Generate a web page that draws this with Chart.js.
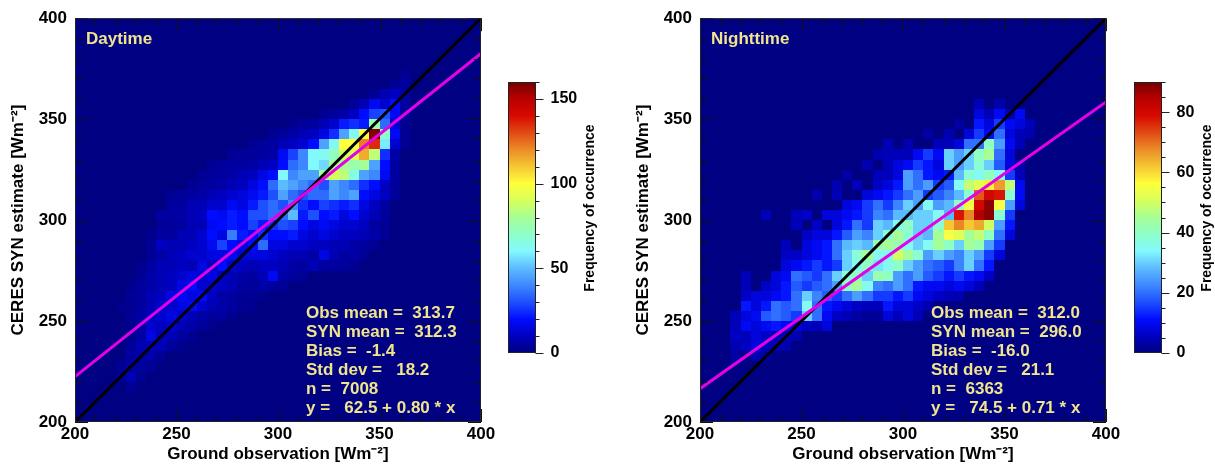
<!DOCTYPE html>
<html><head><meta charset="utf-8">
<script src="https://cdn.jsdelivr.net/npm/chart.js@4.4.1/dist/chart.umd.min.js"></script>
<style>
html,body{margin:0;padding:0;background:#fff}
body{width:1215px;height:467px;overflow:hidden;position:relative}
canvas{position:absolute;top:0}
</style></head><body>
<canvas id="day" width="500" height="467" style="left:0px"></canvas>
<canvas id="dayBar" width="125" height="467" style="left:500px"></canvas>
<canvas id="night" width="500" height="467" style="left:625px"></canvas>
<canvas id="nightBar" width="90" height="467" style="left:1125px"></canvas>
<script>
// ---------------- data ----------------
const binWidth = 5;
const axisTicks = [200, 250, 300, 350, 400];
const dayBarTicks = [0, 50, 100, 150];
const nightBarTicks = [0, 20, 40, 60, 80];
const barMax = [160, 90];
const panelLabels = ['Daytime', 'Nighttime'];
const fitIntercept = [62.5, 74.5];
const fitSlope = [0.80, 0.71];
const dayStats = ['Obs mean =  313.7', 'SYN mean =  312.3', 'Bias =  -1.4', 'Std dev =   18.2', 'n =  7008', 'y =   62.5 + 0.80 * x'];
const nightStats = ['Obs mean =  312.0', 'SYN mean =  296.0', 'Bias =  -16.0', 'Std dev =   21.1', 'n =  6363', 'y =   74.5 + 0.71 * x'];

// Daytime 2-D histogram: row = SYN bin lower edge, start = first obs bin lower edge, counts per 5 Wm-2 obs bin
const daySyn = [215,220,225,230,235,240,245,250,255,260,265,270,275,280,285,290,295,300,305,310,315,320,325,330,335,340,345,350,355,360,365,370];
const dayStart = [225,220,220,225,225,225,225,225,220,225,225,230,230,235,235,235,240,240,245,245,255,260,265,275,285,295,305,320,335,345,355,360];
const dayCounts = [
 [3],
 [3,8,3],
 [3,6,4,3],
 [5,6,6,3],
 [4,8,8,8,4,2],
 [2,6,15,10,8,5,3],
 [2,5,12,10,12,8,6,4,2],
 [3,6,10,12,15,12,8,6,4,5,2],
 [2,3,5,8,12,12,15,18,12,8,6,5,3,2],
 [3,5,8,10,15,18,15,18,10,6,5,3,3,2],
 [2,5,6,8,10,15,20,12,12,10,8,5,4,6,5,3],
 [3,6,8,10,12,15,12,15,10,8,6,5,8,18,6,5,3],
 [2,5,8,8,10,8,15,10,20,12,10,8,10,10,8,6,5,8,5,5,4,3],
 [3,6,8,10,12,12,15,15,18,14,15,15,12,10,8,8,6,15,8,5,6,3],
 [3,10,8,8,10,12,18,28,20,15,20,35,15,15,12,12,10,10,8,8,6,5,3],
 [2,5,5,8,8,12,20,15,38,22,20,25,20,20,22,15,12,15,12,10,10,8,6,3],
 [3,4,5,8,8,18,20,22,20,28,22,25,30,28,20,15,18,15,12,12,10,5,3],
 [5,5,6,8,10,20,18,22,20,30,30,35,35,50,22,30,20,22,15,20,12,8,4],
 [5,5,8,8,12,12,18,15,22,30,35,30,40,25,20,28,25,22,25,15,10,5],
 [3,4,5,6,8,10,12,14,18,22,30,45,35,30,35,35,45,40,45,20,15,10,4],
 [3,4,5,6,8,10,15,20,35,50,45,40,35,30,45,40,35,25,20,10,4],
 [3,4,5,6,8,10,15,20,60,40,45,45,80,90,85,65,45,40,18,5],
 [3,4,5,5,6,8,10,20,35,40,60,55,80,80,75,80,45,20,5],
 [3,4,4,5,6,18,28,40,60,62,72,90,92,115,85,25,6],
 [3,4,5,8,10,12,20,45,62,100,100,122,135,58,12,3],
 [3,4,6,8,10,15,25,45,62,100,158,70,18,3],
 [2,4,5,8,12,22,25,22,75,35,12,3],
 [3,4,6,10,20,28,30,18,4],
 [4,8,18,12,20,5],
 [3,8,10,6],
 [3,5],
 [3]
];

// Nighttime 2-D histogram
const nightSyn = [230,235,240,245,250,255,260,265,270,275,280,285,290,295,300,305,310,315,320,325,330,335,340,345,350,355];
const nightStart = [215,215,215,215,215,220,220,220,220,240,240,240,250,245,230,270,255,265,270,280,285,290,310,325,335,335];
const nightCounts = [
 [3,0,4,3],
 [4,6,8,5,4,4],
 [6,5,8,6,5,5,4],
 [5,10,8,10,12,10,8,6,5,8],
 [5,8,10,18,20,18,15,30,20,10,6,5,3,2,2,8,5,8,5],
 [12,8,12,20,18,20,35,20,12,10,8,6,5,5,12,8,8,6,4],
 [6,8,8,10,12,20,30,22,18,15,20,25,20,15,15,12,15,10,8,6,5,4],
 [5,0,6,8,12,18,15,18,20,25,40,45,35,22,20,25,20,12,10,10,8,10,8,5],
 [5,0,0,8,10,20,18,15,20,30,38,40,30,42,40,25,20,25,18,15,12,15,12,10,6],
 [8,10,12,15,12,15,30,35,40,32,35,40,30,25,20,18,15,22,30,20,12],
 [6,6,8,10,12,20,30,38,45,35,35,50,45,38,25,30,25,22,30,25,15,8],
 [5,0,8,10,12,20,28,30,28,42,45,42,35,30,35,45,40,30,45,42,25,15],
 [6,8,8,12,18,25,22,30,38,45,38,30,28,45,55,52,45,48,40,20,8],
 [5,0,6,0,8,12,20,15,30,28,35,40,30,30,38,62,68,62,65,50,25,12],
 [5,0,0,5,6,0,8,8,10,12,15,22,20,28,28,30,30,35,28,78,68,85,88,38,15],
 [8,10,15,20,15,22,30,25,35,25,28,40,55,80,88,55,25,8],
 [4,0,5,0,0,8,10,12,15,20,25,15,18,22,28,38,72,80,78,38,10],
 [4,0,5,0,6,8,12,25,20,25,15,18,35,48,52,58,66,48,10],
 [3,0,0,5,5,8,25,20,12,10,12,28,38,35,40,35,15,5],
 [4,0,5,8,10,15,12,8,30,25,30,38,30,18,8,4],
 [4,5,5,5,10,15,10,30,25,30,40,45,20,8],
 [5,0,4,0,0,5,5,8,20,20,40,25,10,5],
 [3,0,4,0,8,15,10,20,8,5,4],
 [3,0,12,8,15,10,8,5],
 [8,5,10,4,10],
 [5,0,4]
];

// ---------------- styling helpers ----------------
const FONT = '"Liberation Sans", Arial, Helvetica, sans-serif';
const TEXT_YELLOW = 'rgb(240,228,140)';
const paletteStops = [
 [0.0000, 0, 0, 130], [0.0625, 0, 0, 192], [0.1250, 0, 12, 255], [0.1875, 30, 80, 255],
 [0.2500, 62, 136, 255], [0.3125, 92, 186, 255], [0.3750, 130, 248, 255], [0.4375, 140, 255, 200],
 [0.5000, 165, 255, 150], [0.5625, 215, 255, 90], [0.6250, 255, 255, 60], [0.6875, 245, 200, 50],
 [0.7500, 235, 140, 40], [0.8125, 225, 75, 20], [0.8750, 215, 10, 0], [0.9375, 185, 0, 0], [1.0000, 115, 0, 0]
];
function cmap(t) {
  t = Math.max(0, Math.min(1, t));
  for (let i = 1; i < paletteStops.length; i++) {
    if (t <= paletteStops[i][0]) {
      const a = paletteStops[i - 1], b = paletteStops[i];
      const f = (t - a[0]) / (b[0] - a[0]);
      const c = [1, 2, 3].map(k => Math.round(a[k] + (b[k] - a[k]) * f));
      return 'rgb(' + c.join(',') + ')';
    }
  }
  return 'rgb(115,0,0)';
}

function heatPlugin(synRows, starts, counts, vmax) {
  return {
    id: 'heat',
    beforeDatasetsDraw(chart) {
      const {ctx, chartArea: a, scales: {x, y}} = chart;
      ctx.save();
      ctx.beginPath(); ctx.rect(a.left, a.top, a.right - a.left, a.bottom - a.top); ctx.clip();
      ctx.fillStyle = cmap(0);
      ctx.fillRect(a.left, a.top, a.right - a.left, a.bottom - a.top);
      synRows.forEach((s, ri) => {
        counts[ri].forEach((v, ci) => {
          if (v <= 0) return;
          const o = starts[ri] + ci * binWidth;
          const x0 = Math.round(x.getPixelForValue(o)), x1 = Math.round(x.getPixelForValue(o + binWidth));
          const y0 = Math.round(y.getPixelForValue(s + binWidth)), y1 = Math.round(y.getPixelForValue(s));
          ctx.fillStyle = cmap(v / vmax);
          ctx.fillRect(x0, y0, x1 - x0, y1 - y0);
        });
      });
      ctx.restore();
    }
  };
}

function framePlugin(label, stats) {
  return {
    id: 'frame',
    afterDatasetsDraw(chart) {
      const {ctx, chartArea: a, scales: {x, y}} = chart;
      ctx.save();
      ctx.strokeStyle = '#111';
      ctx.lineWidth = 1;
      ctx.beginPath();
      for (let v = 200; v <= 400; v += 10) {
        const len = (v % 50 === 0) ? 13 : 7;
        const px = Math.round(x.getPixelForValue(v)) + 0.5;
        const py = Math.round(y.getPixelForValue(v)) + 0.5;
        ctx.moveTo(px, a.bottom); ctx.lineTo(px, a.bottom - len);
        ctx.moveTo(px, a.top); ctx.lineTo(px, a.top + len);
        ctx.moveTo(a.left, py); ctx.lineTo(a.left + len, py);
        ctx.moveTo(a.right, py); ctx.lineTo(a.right - len, py);
      }
      ctx.stroke();
      ctx.strokeStyle = '#222';
      ctx.strokeRect(a.left + 0.5, a.top + 0.5, a.right - a.left - 1, a.bottom - a.top - 1);
      ctx.fillStyle = TEXT_YELLOW;
      ctx.textBaseline = 'middle';
      ctx.textAlign = 'left';
      ctx.font = 'bold 17px ' + FONT;
      ctx.fillText(label, a.left + 11, a.top + 21);
      stats.forEach((t, i) => ctx.fillText(t, a.left + 231, a.top + 295 + i * 19));
      ctx.restore();
    }
  };
}

function mainChart(id, idx, synRows, starts, counts, stats) {
  const a = fitIntercept[idx], b = fitSlope[idx];
  const tickFont = {family: FONT, size: 17, weight: 'bold'};
  return new Chart(document.getElementById(id), {
    type: 'scatter',
    data: {
      datasets: [
        {label: 'fit', data: [{x: 200, y: a + b * 200}, {x: 400, y: a + b * 400}], showLine: true,
         borderColor: 'rgb(230,0,230)', borderWidth: 3, pointRadius: 0, clip: 0, order: 0},
        {label: '1:1', data: [{x: 200, y: 200}, {x: 400, y: 400}], showLine: true,
         borderColor: '#000', borderWidth: 3, pointRadius: 0, clip: 0, order: 1}
      ]
    },
    options: {
      responsive: false, animation: false, devicePixelRatio: 1,
      layout: {padding: {top: 16, right: 19, bottom: 0, left: 0}},
      plugins: {legend: {display: false}, tooltip: {enabled: false}},
      scales: {
        x: {
          type: 'linear', min: 200, max: 400,
          afterBuildTicks(s) { s.ticks = axisTicks.map(v => ({value: v})); },
          afterFit(s) { s.height = 45; },
          ticks: {font: tickFont, color: '#000', padding: 2, maxRotation: 0},
          grid: {display: false, drawTicks: false}, border: {display: false},
          title: {display: true, text: 'Ground observation [Wm⁻²]', color: '#000',
                  font: {family: FONT, size: 17, weight: 'bold'}, padding: {top: 0, bottom: 2}}
        },
        y: {
          type: 'linear', min: 200, max: 400,
          afterBuildTicks(s) { s.ticks = axisTicks.map(v => ({value: v})); },
          afterFit(s) { s.width = 75; },
          ticks: {font: tickFont, color: '#000', padding: 8},
          grid: {display: false, drawTicks: false}, border: {display: false},
          title: {display: true, text: 'CERES SYN estimate [Wm⁻²]', color: '#000',
                  font: {family: FONT, size: 17, weight: 'bold'}, padding: {top: 8, bottom: 0}}
        }
      }
    },
    plugins: [heatPlugin(synRows, starts, counts, barMax[idx]), framePlugin(panelLabels[idx], stats)]
  });
}

function barPlugin(vmax, minorStep, majorList, titleX) {
  return {
    id: 'cbar',
    beforeDatasetsDraw(chart) {
      const {ctx, chartArea: a, scales: {y}} = chart;
      ctx.save();
      for (let py = Math.floor(a.top); py < Math.ceil(a.bottom); py++) {
        const v = y.getValueForPixel(py + 0.5);
        ctx.fillStyle = cmap(v / vmax);
        ctx.fillRect(a.left, py, a.right - a.left, 1);
      }
      ctx.strokeStyle = '#222'; ctx.lineWidth = 1;
      ctx.strokeRect(Math.round(a.left) + 0.5, Math.round(a.top) + 0.5, Math.round(a.right - a.left) - 1, Math.round(a.bottom - a.top) - 1);
      ctx.beginPath();
      for (let v = 0; v <= vmax + 1e-9; v += minorStep) {
        const len = majorList.includes(v) ? 8 : 4;
        const py = Math.round(y.getPixelForValue(v)) + 0.5;
        ctx.moveTo(a.right, py); ctx.lineTo(a.right + len, py);
      }
      ctx.stroke();
      ctx.translate(titleX, 208);
      ctx.rotate(-Math.PI / 2);
      ctx.fillStyle = '#000';
      ctx.textAlign = 'center'; ctx.textBaseline = 'middle';
      ctx.font = 'bold 14px ' + FONT;
      ctx.fillText('Frequency of occurrence', 0, 0);
      ctx.restore();
    }
  };
}

function barChart(id, idx, ticksList, minorStep, padLeft, axisWidth, titleX) {
  return new Chart(document.getElementById(id), {
    type: 'scatter',
    data: {datasets: []},
    options: {
      responsive: false, animation: false, devicePixelRatio: 1,
      layout: {padding: {top: 82, right: 0, bottom: 114, left: padLeft}},
      plugins: {legend: {display: false}, tooltip: {enabled: false}},
      scales: {
        x: {display: false, min: 0, max: 1},
        y: {
          type: 'linear', position: 'right', min: 0, max: barMax[idx],
          afterBuildTicks(s) { s.ticks = ticksList.map(v => ({value: v})); },
          afterFit(s) { s.width = axisWidth; },
          ticks: {font: {family: FONT, size: 16, weight: 'bold'}, color: '#000', padding: 15},
          grid: {display: false, drawTicks: false}, border: {display: false}
        }
      }
    },
    plugins: [barPlugin(barMax[idx], minorStep, ticksList, titleX)]
  });
}

mainChart('day', 0, daySyn, dayStart, dayCounts, dayStats);
mainChart('night', 1, nightSyn, nightStart, nightCounts, nightStats);
barChart('dayBar', 0, dayBarTicks, 10, 8, 89.5, 90);
barChart('nightBar', 1, nightBarTicks, 5, 9, 53.5, 82);
</script>
</body></html>
